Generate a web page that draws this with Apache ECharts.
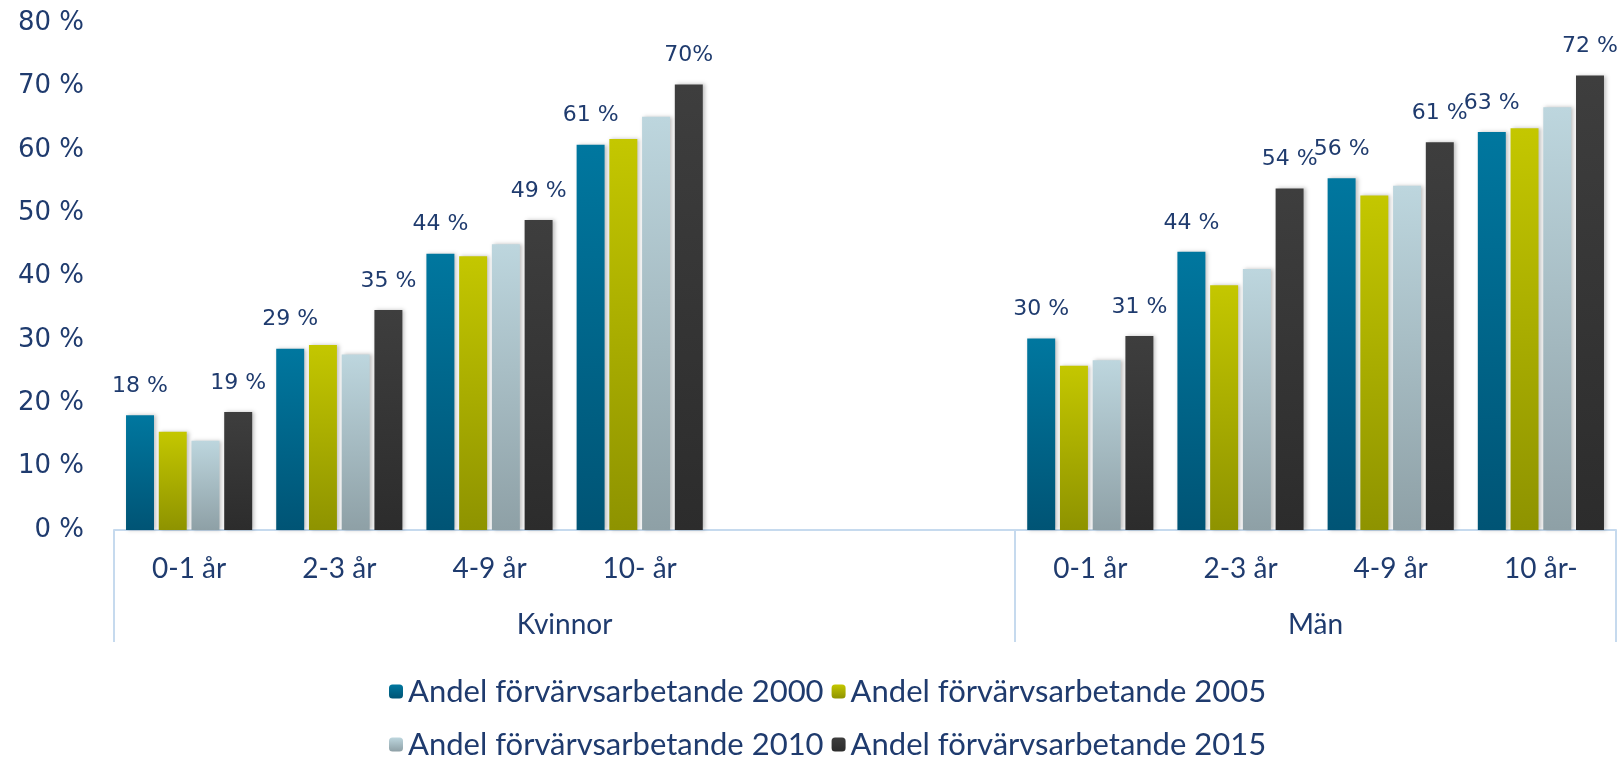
<!DOCTYPE html>
<html>
<head>
<meta charset="utf-8">
<script src="https://cdn.jsdelivr.net/npm/echarts@6/dist/echarts.min.js"></script>
<style>
  html, body { margin: 0; padding: 0; background: #fff; }
  #chart { width: 1619px; height: 759px; }
</style>
</head>
<body>
<div id="chart"></div>
<script>
// categories (two empty slots after Kvinnor)
var categories = ['0-1 år', '2-3 år', '4-9 år', '10- år', '', '', '0-1 år', '2-3 år', '4-9 år', '10 år-'];
var groupNames = ['Kvinnor', 'Män'];
var groupSizes = [6, 4];

var seriesNames = ['Andel förvärvsarbetande 2000', 'Andel förvärvsarbetande 2005',
                   'Andel förvärvsarbetande 2010', 'Andel förvärvsarbetande 2015'];
var v2000 = [18.1, 28.6, 43.6, 60.8, null, null, 30.2, 43.9, 55.5, 62.8];
var v2005 = [15.5, 29.2, 43.2, 61.7, null, null, 25.9, 38.6, 52.8, 63.4];
var v2010 = [14.1, 27.7, 45.1, 65.2, null, null, 26.8, 41.2, 54.3, 66.7];
var v2015 = [18.6, 34.7, 48.9, 70.3, null, null, 30.6, 53.9, 61.2, 71.7];
var labels2000 = ['18 %', '29 %', '44 %', '61 %', '', '', '30 %', '44 %', '56 %', '63 %'];
var labels2015 = ['19 %', '35 %', '49 %', '70%', '', '', '31 %', '54 %', '61 %', '72 %'];

var navy = '#1F3B6E';
var textFont = 'Lato';
var numFont = 'DejaVu Sans';

function grad(top, bottom) {
	return new echarts.graphic.LinearGradient(0, 0, 0, 1, [
		{ offset: 0, color: top },
		{ offset: 1, color: bottom }
	]);
}

// group boundaries and centres on the 0..10 helper axis
var bounds = [0], centers = [], acc = 0;
for (var g = 0; g < groupSizes.length; g++) {
	centers.push(acc + groupSizes[g] / 2);
	acc += groupSizes[g];
	bounds.push(acc);
}

function makeSeries(idx, values, labels, top, bottom) {
	var s = {
		name: seriesNames[idx],
		type: 'bar',
		xAxisIndex: 0,
		barCategoryGap: '16%',
		barGap: '17%',
		itemStyle: {
			color: grad(top, bottom),
			shadowColor: 'rgba(0,0,0,0.25)',
			shadowBlur: 4,
			shadowOffsetX: 2
		},
		data: values
	};
	if (labels) {
		s.label = {
			show: true,
			position: 'top',
			distance: 18,
			fontFamily: numFont,
			fontSize: 22,
			color: navy,
			formatter: function (p) { return labels[p.dataIndex]; }
		};
	}
	return s;
}

var chart = echarts.init(document.getElementById('chart'));
var legendText = { fontFamily: textFont, fontSize: 31, color: navy };
var option = {
	animation: false,
	grid: {
		left: 114,
		right: 3,
		top: 23,
		bottom: 229,
		containLabel: false
	},
	legend: [{
		data: [seriesNames[0], seriesNames[1]],
		left: 384,
		top: 671,
		itemWidth: 14,
		itemHeight: 14,
		itemGap: 8,
		textStyle: legendText
	}, {
		data: [seriesNames[2], seriesNames[3]],
		left: 384,
		top: 724,
		itemWidth: 14,
		itemHeight: 14,
		itemGap: 8,
		textStyle: legendText
	}],
	yAxis: {
		type: 'value',
		min: 0,
		max: 80,
		interval: 10,
		axisLine: { show: false },
		axisTick: { show: false },
		splitLine: { show: false },
		axisLabel: {
			formatter: '{value} %',
			fontFamily: numFont,
			fontSize: 26,
			color: navy,
			margin: 30
		}
	},
	xAxis: [{
		type: 'category',
		data: categories,
		axisLine: { show: true, lineStyle: { color: '#C6DAEE', width: 2 } },
		axisTick: { show: false },
		axisLabel: {
			interval: 0,
			fontFamily: textFont,
			fontSize: 28,
			color: navy,
			margin: 25
		}
	}, {
		type: 'value',
		min: 0,
		max: 10,
		position: 'bottom',
		axisLine: { show: false },
		splitLine: { show: false },
		axisTick: {
			show: true,
			customValues: bounds,
			length: 112,
			lineStyle: { color: '#C6DAEE', width: 2 }
		},
		axisLabel: {
			customValues: centers,
			formatter: function (v) {
				for (var i = 0; i < centers.length; i++) {
					if (Math.abs(centers[i] - v) < 1e-6) return groupNames[i];
				}
				return '';
			},
			fontFamily: textFont,
			fontSize: 28,
			color: navy,
			margin: 81
		}
	}],
	series: [
		makeSeries(0, v2000, labels2000, '#00779F', '#005475'),
		makeSeries(1, v2005, null, '#C4C700', '#8E9300'),
		makeSeries(2, v2010, null, '#BDD6DE', '#8EA0A6'),
		makeSeries(3, v2015, labels2015, '#3E3E3E', '#2C2C2C')
	]
};
chart.setOption(option);
</script>
</body>
</html>
